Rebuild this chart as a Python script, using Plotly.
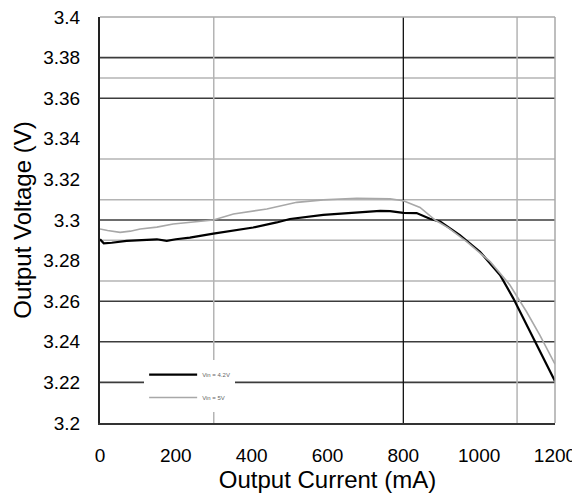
import plotly.graph_objects as go

# ---------------- data ----------------
current_vin4 = [0, 10, 31, 70, 150, 165, 176, 200, 237, 299, 343, 404, 466, 501, 589, 677, 739,
                765, 800, 835, 870, 897, 949, 1002, 1055, 1090, 1125, 1160, 1200]
voltage_vin4 = [3.2905, 3.2885, 3.2888, 3.2897, 3.2905, 3.2900, 3.2897, 3.2905, 3.2913, 3.2933,
                3.2946, 3.2963, 3.2988, 3.3005, 3.3025, 3.3035, 3.3045, 3.3044, 3.3035, 3.3034,
                3.3006, 3.2992, 3.2926, 3.2844, 3.2729, 3.2614, 3.2483, 3.2351, 3.2206]

current_vin5 = [0, 20, 53, 80, 106, 150, 193, 237, 299, 352, 400, 440, 519, 589, 677, 765, 800,
                844, 884, 920, 967, 1029, 1081, 1125, 1160, 1200]
voltage_vin5 = [3.2956, 3.2948, 3.2939, 3.2945, 3.2956, 3.2965, 3.2980, 3.2988, 3.3000, 3.3030,
                3.3042, 3.3054, 3.3087, 3.3099, 3.3107, 3.3104, 3.3095, 3.3062, 3.3000, 3.2960,
                3.2893, 3.2795, 3.2680, 3.2548, 3.2433, 3.2290]

series_names = ["Vin = 4.2V", "Vin = 5V"]

x_ticks = [0, 200, 400, 600, 800, 1000, 1200]
y_ticks = [3.2, 3.22, 3.24, 3.26, 3.28, 3.3, 3.32, 3.34, 3.36, 3.38, 3.4]

grid_dark_y = [3.22, 3.24, 3.26, 3.30, 3.36, 3.38]
grid_light_y = [3.27, 3.29, 3.31, 3.33, 3.37]
grid_dark_x = [800]
grid_light_x = [300, 1100]

FONT = "Liberation Sans, Arial, sans-serif"

fig = go.Figure()
fig.add_trace(go.Scatter(x=current_vin4, y=voltage_vin4, mode="lines", name=series_names[0],
                         legendgroup="a", line=dict(color="#000000", width=2.2)))
fig.add_trace(go.Scatter(x=current_vin5, y=voltage_vin5, mode="lines", name=series_names[1],
                         legendgroup="b", line=dict(color="#a8a8a8", width=1.6)))

shapes = []
for v in grid_light_y:
    shapes.append(dict(type="line", xref="paper", yref="y", x0=0, x1=1, y0=v, y1=v,
                       line=dict(color="#b4b4b4", width=1.5), layer="below"))
for v in grid_dark_y:
    shapes.append(dict(type="line", xref="paper", yref="y", x0=0, x1=1, y0=v, y1=v,
                       line=dict(color="#3c3c3c", width=1.6), layer="below"))
for v in grid_light_x:
    shapes.append(dict(type="line", xref="x", yref="paper", x0=v, x1=v, y0=0, y1=1,
                       line=dict(color="#b4b4b4", width=1.5), layer="below"))
for v in grid_dark_x:
    shapes.append(dict(type="line", xref="x", yref="paper", x0=v, x1=v, y0=0, y1=1,
                       line=dict(color="#111111", width=1.3), layer="below"))
# frame: top and right gray
shapes.append(dict(type="line", xref="paper", yref="paper", x0=0, x1=1, y0=1, y1=1,
                   line=dict(color="#a8a8a8", width=1.5)))
shapes.append(dict(type="line", xref="paper", yref="paper", x0=1, x1=1, y0=0, y1=1,
                   line=dict(color="#a8a8a8", width=1.5)))

fig.update_layout(
    width=572, height=492,
    margin=dict(l=92, r=25, t=9, b=77),
    paper_bgcolor="white", plot_bgcolor="white",
    font=dict(family=FONT, color="#000000"),
    shapes=shapes,
    showlegend=True,
    legend=dict(x=0.097, y=0.155, xanchor="left", yanchor="top",
                bgcolor="white", borderwidth=0,
                font=dict(size=6, color="#666666", family=FONT),
                tracegroupgap=4, itemwidth=48),
)
fig.update_xaxes(range=[0, 1200], tickvals=x_ticks, showgrid=False, zeroline=False,
                 showline=True, linecolor="#333333", linewidth=1.5, automargin=False,
                 ticks="", ticklabelstandoff=14, ticklabeloverflow="allow",
                 tickfont=dict(size=19, family=FONT),
                 title=dict(text="Output Current (mA)", font=dict(size=24, family=FONT), standoff=7))
fig.update_yaxes(range=[3.2, 3.4], tickvals=y_ticks, showgrid=False, zeroline=False,
                 showline=True, linecolor="#222222", linewidth=2, automargin=False,
                 ticks="", ticklabelstandoff=14, ticklabeloverflow="allow",
                 tickfont=dict(size=19, family=FONT),
                 title=dict(text="Output Voltage (V)", font=dict(size=24, family=FONT), standoff=5))

fig.write_html("out.html")
